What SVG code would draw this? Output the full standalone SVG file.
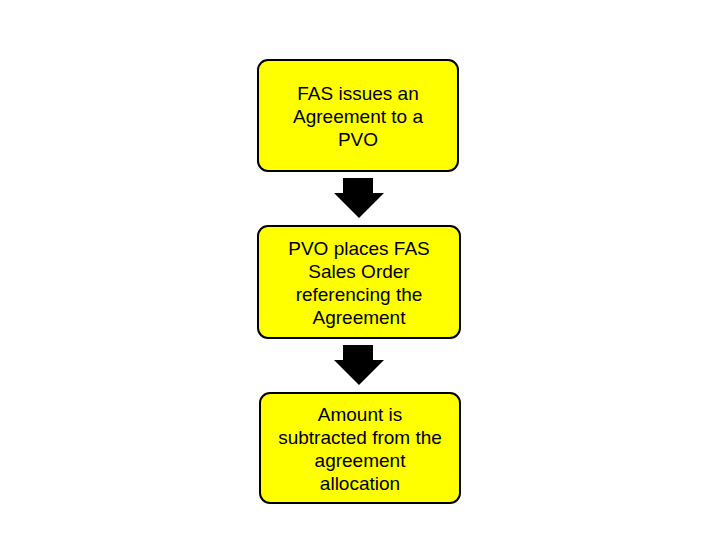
<svg xmlns="http://www.w3.org/2000/svg" width="720" height="540" viewBox="0 0 720 540">
<style>
.box{fill:#ffff00;stroke:#000;stroke-width:2}
text{font-family:"Liberation Sans",Arial,sans-serif;font-size:19px;text-anchor:middle;fill:#000}
</style>
<rect width="720" height="540" fill="#fff"/>
<g id="connectors">
<polygon points="343,178 373,178 373,193 384,193 359,218 334,193 343,193"/>
<polygon points="343,345 373,345 373,360 384,360 359,385 334,360 343,360"/>
</g>
<g id="n1"><rect class="box" x="258" y="60" width="200" height="111" rx="10"/>
<text x="358" y="100">FAS issues an</text><text x="358" y="123">Agreement to a</text><text x="358" y="146">PVO</text></g>
<g id="n2"><rect class="box" x="258" y="226" width="202" height="112" rx="10"/>
<text x="359" y="255">PVO places FAS</text><text x="359" y="278">Sales Order</text><text x="359" y="301">referencing the</text><text x="359" y="324">Agreement</text></g>
<g id="n3"><rect class="box" x="260" y="393" width="200" height="110" rx="10"/>
<text x="360" y="421">Amount is</text><text x="360" y="444">subtracted from the</text><text x="360" y="467">agreement</text><text x="360" y="490">allocation</text></g>
</svg>
